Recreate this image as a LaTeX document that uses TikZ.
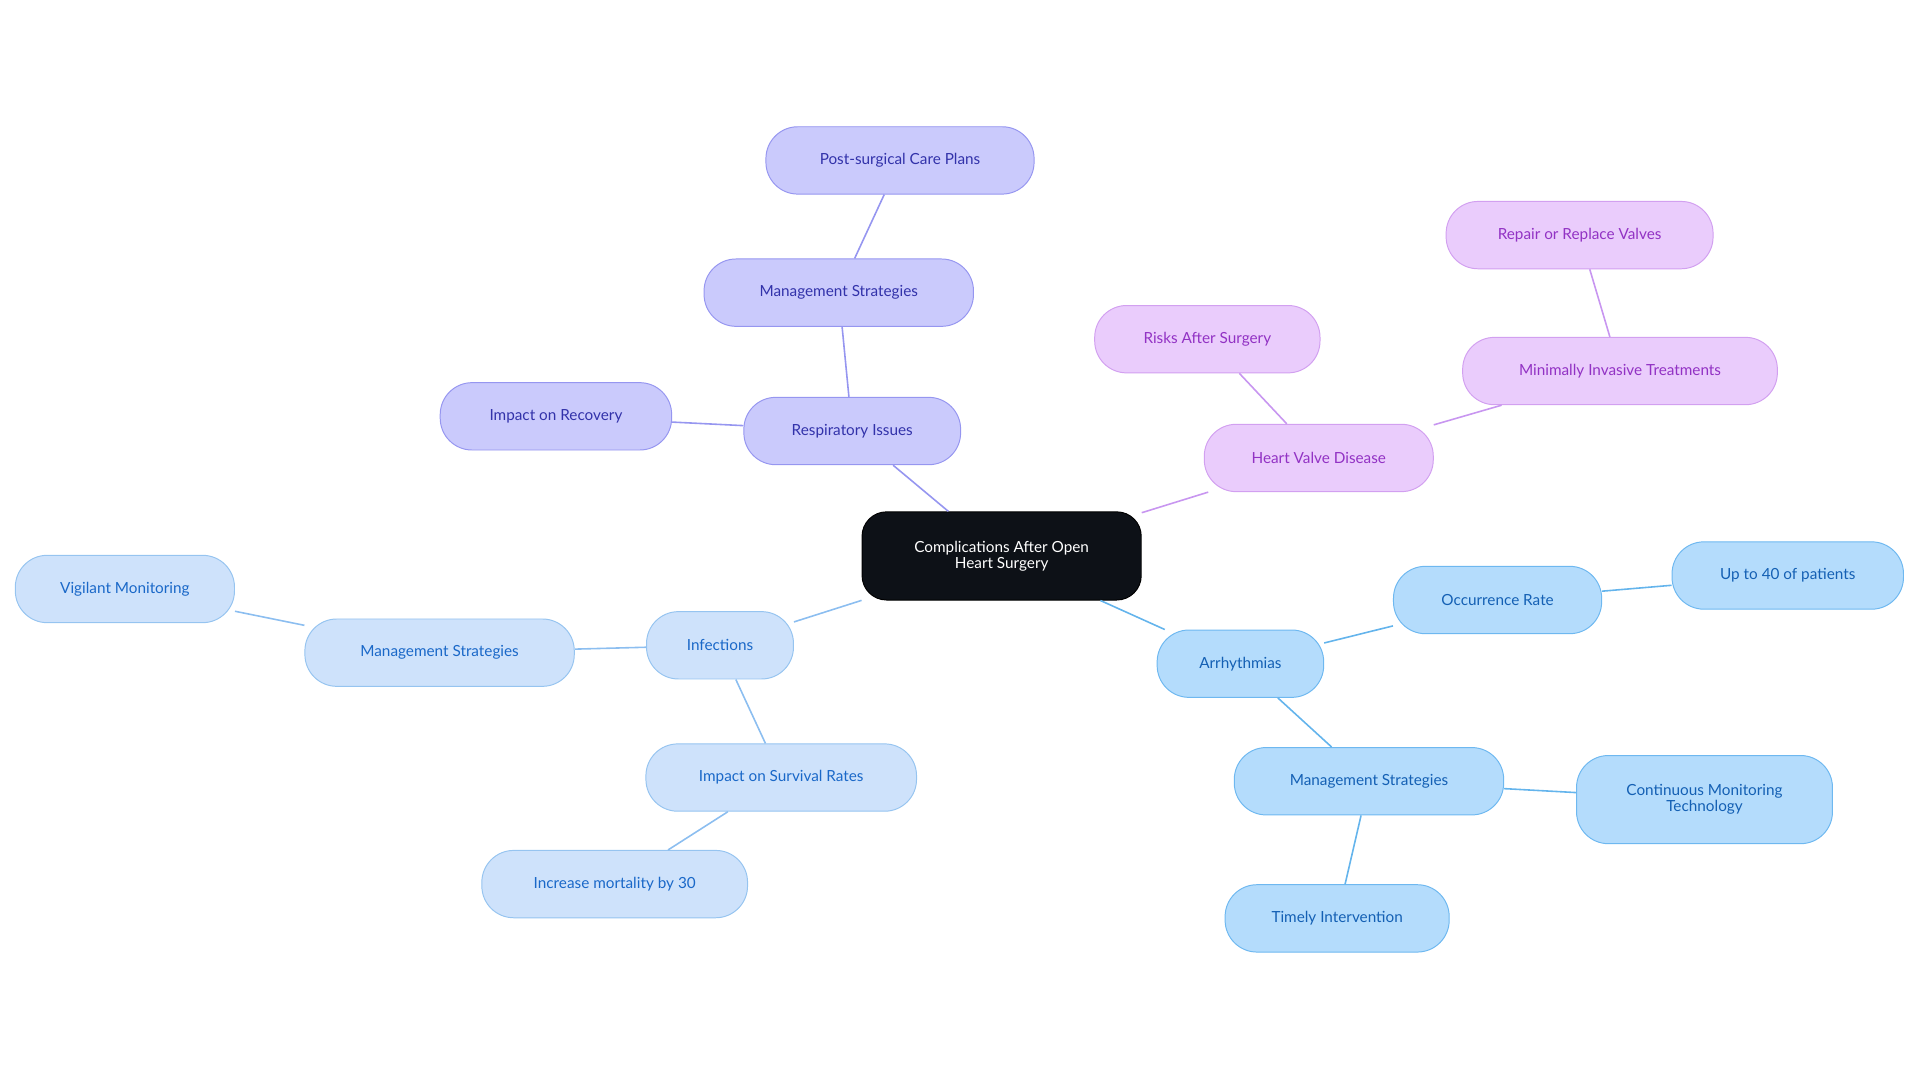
\documentclass[tikz,border=0pt]{standalone}
\usepackage{fontspec}
\setmainfont{Lato}
\begin{document}
\begin{tikzpicture}[x=1pt,y=-1pt,
 box/.style={rounded corners=26pt,minimum height=55pt,align=center,font=\fontsize{12.5}{13}\selectfont,line width=0.8pt},
 cen/.style={box,fill=black!85!blue!60!black,draw=black,text=white,minimum height=72pt,rounded corners=20pt,fill={rgb,255:red,13;green,17;blue,23}},
 inf/.style={box,fill={rgb,255:red,206;green,226;blue,251},draw={rgb,255:red,150;green,196;blue,240},text={rgb,255:red,26;green,104;blue,200}},
 arr/.style={box,fill={rgb,255:red,180;green,220;blue,252},draw={rgb,255:red,110;green,184;blue,240},text={rgb,255:red,20;green,96;blue,180}},
 res/.style={box,fill={rgb,255:red,202;green,202;blue,252},draw={rgb,255:red,150;green,150;blue,240},text={rgb,255:red,50;green,50;blue,170}},
 hv/.style={box,fill={rgb,255:red,234;green,204;blue,252},draw={rgb,255:red,210;green,160;blue,240},text={rgb,255:red,146;green,50;blue,196}},
 einf/.style={draw={rgb,255:red,140;green,190;blue,240},line width=1.3pt},
 earr/.style={draw={rgb,255:red,100;green,180;blue,236},line width=1.3pt},
 eres/.style={draw={rgb,255:red,150;green,150;blue,240},line width=1.3pt},
 ehv/.style={draw={rgb,255:red,200;green,150;blue,240},line width=1.3pt}]
\useasboundingbox (0,0) rectangle (1568,884);
\node[cen,minimum width=228pt] (c) at (818,454) {Complications After Open\\Heart Surgery};
\node[res,minimum width=177pt] (r) at (696,352) {Respiratory Issues};
\node[res,minimum width=189pt] (r1) at (454,340) {Impact on Recovery};
\node[res,minimum width=220pt] (r2) at (685,239) {Management Strategies};
\node[res,minimum width=219pt] (r3) at (735,131) {Post-surgical Care Plans};
\node[hv,minimum width=187pt] (h) at (1077,374) {Heart Valve Disease};
\node[hv,minimum width=184pt] (h1) at (986,277) {Risks After Surgery};
\node[hv,minimum width=257pt] (h2) at (1323,303) {Minimally Invasive Treatments};
\node[hv,minimum width=218pt] (h3) at (1290,192) {Repair or Replace Valves};
\node[arr,minimum width=136pt] (a) at (1013,542) {Arrhythmias};
\node[arr,minimum width=170pt] (a1) at (1223,490) {Occurrence Rate};
\node[arr,minimum width=189pt] (a2) at (1460,470) {Up to 40 of patients};
\node[arr,minimum width=220pt] (a3) at (1118,638) {Management Strategies};
\node[arr,minimum width=209pt,minimum height=72pt] (a4) at (1392,653) {Continuous Monitoring\\Technology};
\node[arr,minimum width=183pt] (a5) at (1092,750) {Timely Intervention};
\node[inf,minimum width=120pt] (i) at (588,527) {Infections};
\node[inf,minimum width=220pt] (i1) at (359,533) {Management Strategies};
\node[inf,minimum width=179pt] (i2) at (102,481) {Vigilant Monitoring};
\node[inf,minimum width=221pt] (i3) at (638,635) {Impact on Survival Rates};
\node[inf,minimum width=217pt] (i4) at (502,722) {Increase mortality by 30};
\begin{scope}[on background layer/.style={}]
\end{scope}
\draw[eres] (c) -- (r); \draw[eres] (r) -- (r1); \draw[eres] (r) -- (r2); \draw[eres] (r2) -- (r3);
\draw[ehv] (c) -- (h); \draw[ehv] (h) -- (h1); \draw[ehv] (h) -- (h2); \draw[ehv] (h2) -- (h3);
\draw[earr] (c) -- (a); \draw[earr] (a) -- (a1); \draw[earr] (a1) -- (a2); \draw[earr] (a) -- (a3); \draw[earr] (a3) -- (a4); \draw[earr] (a3) -- (a5);
\draw[einf] (c) -- (i); \draw[einf] (i) -- (i1); \draw[einf] (i1) -- (i2); \draw[einf] (i) -- (i3); \draw[einf] (i3) -- (i4);
\end{tikzpicture}
\end{document}
